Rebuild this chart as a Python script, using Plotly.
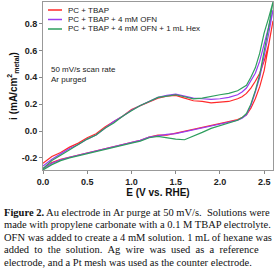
import plotly.graph_objects as go

# ---- data ----
E_fwd = [0.0, 0.1, 0.2, 0.3, 0.4, 0.5, 0.6, 0.7, 0.8, 0.9, 1.0, 1.1, 1.2, 1.3,
         1.4, 1.5, 1.6, 1.7, 1.8, 1.9, 2.0, 2.1, 2.2, 2.25, 2.3, 2.35, 2.4, 2.45,
         2.5, 2.55, 2.6]
E_rev = [2.6, 2.55, 2.5, 2.45, 2.4, 2.35, 2.3, 2.25, 2.2, 2.1, 2.0, 1.9, 1.8, 1.7,
         1.6, 1.5, 1.4, 1.3, 1.2, 1.1, 1.0, 0.9, 0.8, 0.7, 0.6, 0.5, 0.4, 0.3, 0.2,
         0.1, 0.0]

red_fwd = [-0.24, -0.19, -0.16, -0.12, -0.09, -0.05, -0.02, 0.03, 0.07, 0.11, 0.16,
           0.19, 0.22, 0.245, 0.26, 0.265, 0.245, 0.225, 0.22, 0.21, 0.215, 0.22,
           0.24, 0.255, 0.28, 0.32, 0.37, 0.43, 0.52, 0.64, 0.82]
red_rev = [0.82, 0.62, 0.45, 0.33, 0.24, 0.17, 0.12, 0.10, 0.085, 0.07, 0.055, 0.04,
           0.025, 0.01, -0.005, -0.015, -0.03, -0.03, -0.045, -0.07, -0.085, -0.10,
           -0.115, -0.13, -0.15, -0.165, -0.18, -0.195, -0.21, -0.235, -0.28]

purple_fwd = [-0.26, -0.21, -0.17, -0.13, -0.10, -0.06, -0.03, 0.02, 0.07, 0.11, 0.155,
              0.19, 0.22, 0.25, 0.265, 0.275, 0.26, 0.245, 0.24, 0.235, 0.24, 0.25,
              0.27, 0.29, 0.32, 0.37, 0.43, 0.52, 0.65, 0.76, 0.90]
purple_rev = [0.90, 0.72, 0.55, 0.40, 0.29, 0.19, 0.12, 0.095, 0.08, 0.065, 0.05, 0.035,
              0.02, 0.01, -0.01, -0.02, -0.025, -0.035, -0.045, -0.07, -0.085, -0.10,
              -0.115, -0.13, -0.15, -0.165, -0.18, -0.195, -0.215, -0.24, -0.28]

green_fwd = [-0.28, -0.22, -0.18, -0.14, -0.10, -0.06, -0.03, 0.02, 0.06, 0.11, 0.15,
             0.19, 0.22, 0.25, 0.26, 0.27, 0.255, 0.24, 0.245, 0.26, 0.27, 0.28,
             0.30, 0.32, 0.34, 0.40, 0.47, 0.58, 0.73, 0.84, 0.96]
green_rev = [0.96, 0.77, 0.58, 0.42, 0.30, 0.20, 0.13, 0.10, 0.08, 0.06, 0.04, 0.02,
             -0.01, -0.04, -0.065, -0.06, -0.05, -0.04, -0.05, -0.075, -0.09, -0.105,
             -0.12, -0.135, -0.155, -0.17, -0.185, -0.20, -0.22, -0.25, -0.29]

names = ["PC + TBAP", "PC + TBAP + 4 mM OFN", "PC + TBAP + 4 mM OFN + 1 mL Hex"]
colors = ["#ff2a2a", "#9a3cf0", "#2e9e5e"]

x_ticks = [0.0, 0.5, 1.0, 1.5, 2.0, 2.5]
x_tick_labels = ["0.0", "0.5", "1.0", "1.5", "2.0", "2.5"]
y_ticks = [-0.2, 0.0, 0.2, 0.4, 0.6, 0.8]
y_tick_labels = ["-0.2", "0.0", "0.2", "0.4", "0.6", "0.8"]

NB = "\u00a0"
caption_lines = [
    "<b>Figure 2.</b> Au electrode in Ar purge at 50 mV/s." + NB + " Solutions were",
    "made with propylene carbonate with a 0.1 M TBAP electrolyte.",
    "OFN was added to create a 4 mM solution. 1 mL of hexane was",
    ("added to the solution. Ag wire was used as a reference").replace(" ", " " + NB),
    "electrode, and a Pt mesh was used as the counter electrode.",
]

# plot area in pixels
L, R, T, B = 43, 273, 2, 170
W, H = 275, 270


def px(xp):
    return (xp - L) / (R - L)


def py(yp):
    return (B - yp) / (B - T)


fig = go.Figure()
series = [(red_fwd, red_rev), (purple_fwd, purple_rev), (green_fwd, green_rev)]
for (f, r), name, c in zip(series, names, colors):
    fig.add_trace(go.Scatter(x=E_fwd + E_rev, y=f + r, mode="lines", name=name,
                             line=dict(color=c, width=1.2), showlegend=False))

sans = "Liberation Sans, Arial"
fig.update_layout(
    width=W, height=H,
    margin=dict(l=L, r=W - R, t=T, b=H - B, autoexpand=False),
    paper_bgcolor="white", plot_bgcolor="white",
    showlegend=False,
    xaxis=dict(range=[0, 2.6], tickvals=x_ticks, ticktext=x_tick_labels,
               ticks="outside", ticklen=3, tickcolor="#888", showgrid=False,
               zeroline=False, showline=True, linecolor="#999", linewidth=1, mirror=True,
               tickfont=dict(family=sans, size=9, color="#222", weight="bold"),
               title=dict(text="<b>E (V vs. RHE)</b>", font=dict(family=sans, size=10, color="#111"), standoff=3)),
    yaxis=dict(range=[-0.29, 0.96], tickvals=y_ticks, ticktext=y_tick_labels,
               ticks="outside", ticklen=3, tickcolor="#888", showgrid=False,
               zeroline=False, showline=True, linecolor="#999", linewidth=1, mirror=True,
               tickfont=dict(family=sans, size=9, color="#222", weight="bold"),
               title=dict(text="<b>i (mA/cm<sup>2</sup><sub>metal</sub>)</b>", font=dict(family=sans, size=10, color="#111"), standoff=2)),
)

# manual legend
leg_y = [10, 19.5, 29]
for name, c, yy in zip(names, colors, leg_y):
    fig.add_shape(type="line", xref="paper", yref="paper", x0=px(48), x1=px(62),
                  y0=py(yy), y1=py(yy), line=dict(color=c, width=1.5))
    fig.add_annotation(x=px(66), y=py(yy), xref="paper", yref="paper", xanchor="left",
                       yanchor="middle", text=name, showarrow=False,
                       font=dict(family=sans, size=8, color="#222"))

fig.add_annotation(x=px(49), y=py(74.5), xref="paper", yref="paper", xanchor="left", yanchor="middle",
                   text="50 mV/s scan rate<br>Ar purged", showarrow=False, align="left",
                   font=dict(family=sans, size=8, color="#222"))

cap_y = [212, 224.5, 237, 249.5, 262]
for t, yy in zip(caption_lines, cap_y):
    fig.add_annotation(x=px(2), y=py(yy), xref="paper", yref="paper",
                       xanchor="left", yanchor="middle", text=t, showarrow=False,
                       font=dict(family="Liberation Serif, Times New Roman", size=10.5, color="#111"))

fig.write_html("out.html", config={"displayModeBar": False},
               post_script="document.body.style.margin='0';document.body.style.overflow='hidden';")
